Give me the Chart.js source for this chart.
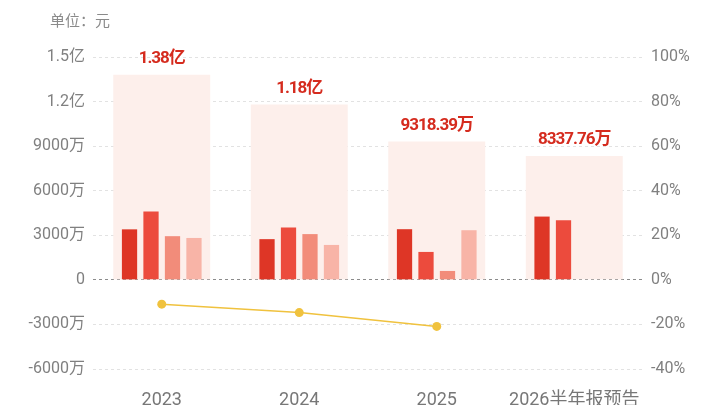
<!DOCTYPE html>
<html lang="zh-CN">
<head>
<meta charset="UTF-8">
<title>净利润</title>
<script src="https://cdn.jsdelivr.net/npm/chart.js"></script>
<style>
  html, body { margin: 0; padding: 0; background: #fff; }
  #box { width: 720px; height: 405px; position: relative; }
</style>
</head>
<body>
<div id="box"><canvas id="myChart"></canvas></div>
<script>
// 单位：万元
const categories = ['2023', '2024', '2025', '2026半年报预告'];
const totals = [13800, 11800, 9318.39, 8337.76];
const q1 = [3400, 2740, 3410, 4260];
const q2 = [4600, 3520, 1880, 4010];
const q3 = [2940, 3080, 600, null];
const q4 = [2820, 2350, 3340, null];
const growth = [-10.9, -14.7, -20.9, null];
const leftTicks = { min: -6000, max: 15000, step: 3000 };
const rightTicks = { min: -40, max: 100, step: 20 };

const fontFam = 'Roboto, "Noto Sans CJK SC", sans-serif';

function fmtWan(v) {
  if (v === 0) return '0';
  if (Math.abs(v) >= 10000) return (v / 10000).toFixed(1) + '亿';
  return v + '万';
}
function fmtTotal(v) {
  if (v >= 10000) return (v / 10000).toFixed(2) + '亿';
  return v.toFixed(2) + '万';
}

const topLabels = {
  id: 'topLabels',
  afterDatasetsDraw(chart) {
    const c = chart.ctx;
    const meta = chart.getDatasetMeta(0);
    c.save();
    c.font = 'bold 17px ' + fontFam;
    c.letterSpacing = '-1px';
    c.fillStyle = '#d52b1e';
    c.textAlign = 'center';
    c.textBaseline = 'middle';
    meta.data.forEach((el, i) => {
      c.fillText(fmtTotal(totals[i]), el.x, el.y - 16);
    });
    c.letterSpacing = '0px';
    c.font = '15px ' + fontFam;
    c.fillStyle = '#8a8a8a';
    c.textAlign = 'left';
    c.fillText('单位：元', 50, 22);
    c.restore();
  }
};

const ctx = document.getElementById('myChart');
new Chart(ctx, {
  data: {
    labels: categories,
    datasets: [
      { type: 'bar', data: totals, backgroundColor: '#fdefeb', grouped: false,
        categoryPercentage: 1, barPercentage: 0.705, order: 10 },
      { type: 'bar', data: q1, backgroundColor: '#de3626', order: 2 },
      { type: 'bar', data: q2, backgroundColor: '#ec4b3d', order: 2 },
      { type: 'bar', data: q3, backgroundColor: '#f28c7a', order: 2 },
      { type: 'bar', data: q4, backgroundColor: '#f8b4a7', order: 2 },
      { type: 'line', data: growth, yAxisID: 'y1', borderColor: '#f0c23e',
        backgroundColor: '#f0c23e', borderWidth: 1.5, pointRadius: 4.5,
        pointBorderWidth: 0, order: 0 }
    ]
  },
  options: {
    responsive: true,
    maintainAspectRatio: false,
    animation: false,
    datasets: {
      bar: { categoryPercentage: 0.625, barPercentage: 0.71 }
    },
    layout: { padding: { top: 57, bottom: 0, left: 0, right: 0 } },
    plugins: { legend: { display: false }, tooltip: { enabled: false } },
    scales: {
      x: {
        grid: { display: false, drawTicks: false },
        border: { display: false },
        ticks: { color: '#777', font: { size: 18, family: fontFam }, padding: 21 },
        afterFit(s) { s.height = 36; }
      },
      y: {
        position: 'left',
        min: leftTicks.min, max: leftTicks.max,
        ticks: { stepSize: leftTicks.step, color: '#808080', padding: 8,
          font: { size: 16, family: fontFam }, callback: v => fmtWan(v) },
        grid: { drawTicks: false, lineWidth: 1,
          color: c => c.tick.value === 0 ? '#8c8c8c' : '#e2e2e2' },
        border: { display: false, dash: [3, 3] },
        afterFit(s) { s.width = 93; }
      },
      y1: {
        position: 'right',
        min: rightTicks.min, max: rightTicks.max,
        ticks: { stepSize: rightTicks.step, color: '#808080', padding: 8,
          font: { size: 16, family: fontFam }, callback: v => v + '%' },
        grid: { display: false, drawTicks: false },
        border: { display: false },
        afterFit(s) { s.width = 77; }
      }
    }
  },
  plugins: [topLabels]
});
</script>
</body>
</html>
